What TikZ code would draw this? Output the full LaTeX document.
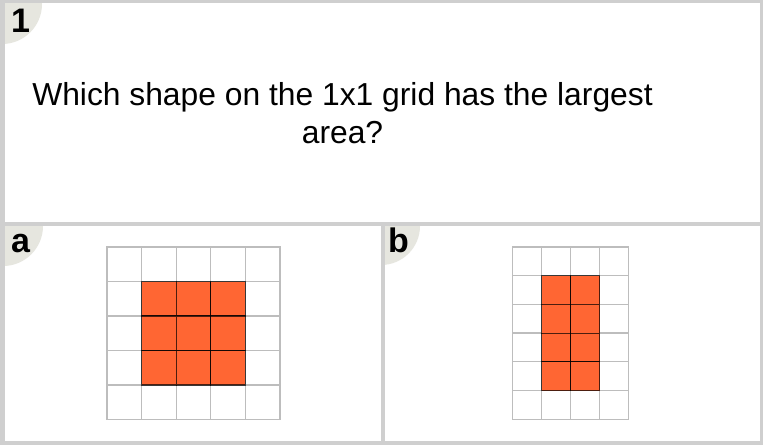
\documentclass[tikz,border=0pt]{standalone}
\usepackage{fontspec}
\setmainfont{Liberation Sans}
\definecolor{frame}{HTML}{CFCFCF}
\definecolor{badge}{HTML}{E6E6DF}
\definecolor{gridc}{HTML}{BDBDBD}
\definecolor{shape}{HTML}{FF6633}
\tikzset{
  panel/.style={fill=white,draw=none},
  badgefill/.style={fill=badge},
  gridline/.style={draw=gridc,line width=1.3pt},
  cellon/.style={fill=shape,draw=black,draw opacity=0.7,line width=1.2pt},
  badgelabel/.style={font=\fontsize{34}{34}\selectfont\bfseries,anchor=base west,inner sep=0pt},
  question/.style={font=\fontsize{31.8}{38.5}\selectfont,align=center,inner sep=0pt}
}
\begin{document}
\begin{tikzpicture}[x=1pt,y=-1pt]
\useasboundingbox (0,0) rectangle (763,445);
\fill[frame] (0,0) rectangle (763,445);
% panels
\fill[white] (5,3) rectangle (760,222);
\fill[white] (5,226) rectangle (381,441);
\fill[white] (385,226) rectangle (760,441);
% badges
\begin{scope}
\clip (5,3) rectangle (760,222);
\fill[badgefill] (2,4) circle (40);
\end{scope}
\begin{scope}
\clip (5,226) rectangle (381,441);
\fill[badgefill] (3,226) circle (40);
\end{scope}
\begin{scope}
\clip (385,226) rectangle (760,441);
\fill[badgefill] (381,226) circle (39);
\end{scope}
\node[badgelabel] (l1) at (11,32) {1};
\node[badgelabel] (la) at (11,252) {a};
\node[badgelabel] (lb) at (388,252) {b};
% question
\node[question] (q) at (342.5,113) {Which shape on the 1x1 grid has the largest\\area?};
% grid a
\begin{scope}[shift={(107,247)}]
\foreach \i in {0,...,4}{
  \foreach \j in {0,...,4}{
    \draw[gridline] (\i*34.6,\j*34.5) rectangle ++(34.6,34.5);
  }
}
\foreach \i in {1,...,3}{
  \foreach \j in {1,...,3}{
    \draw[cellon] (\i*34.6,\j*34.5) rectangle ++(34.6,34.5);
  }
}
\end{scope}
% grid b
\begin{scope}[shift={(512.5,247)}]
\foreach \i in {0,...,3}{
  \foreach \j in {0,...,5}{
    \draw[gridline] (\i*29,\j*28.7) rectangle ++(29,28.7);
  }
}
\foreach \i in {1,2}{
  \foreach \j in {1,...,4}{
    \draw[cellon] (\i*29,\j*28.7) rectangle ++(29,28.7);
  }
}
\end{scope}
\end{tikzpicture}
\end{document}
